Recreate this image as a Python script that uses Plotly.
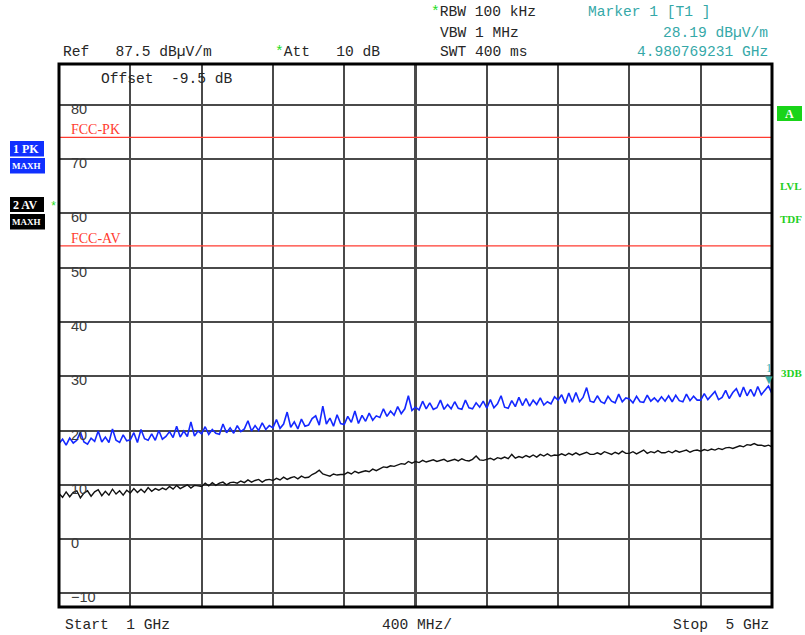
import numpy as np
import plotly.graph_objects as go

# ---- sweep settings ----
start_ghz = 1.0
stop_ghz = 5.0
ref_level = 87.5          # dBuV/m, top of screen
range_db = 100.0          # 10 dB / div
freq_ghz = np.linspace(start_ghz, stop_ghz, 201)   # 20 MHz per point

# ---- trace 1: peak, max hold (dBuV/m) ----
trace1_pk = [
    17.6, 18.4, 17.3, 18.6, 17.7, 18.2, 19.7, 17.9, 17.5, 18.6,
    18.0, 19.9, 17.9, 18.8, 17.8, 20.3, 18.2, 17.8, 19.2, 18.1,
    18.3, 19.6, 17.8, 20.2, 18.5, 18.2, 19.4, 18.2, 20.0, 18.4,
    18.9, 19.8, 18.7, 20.8, 18.8, 19.9, 18.9, 21.6, 19.0, 19.9,
    19.4, 20.7, 19.3, 20.2, 19.5, 19.3, 21.2, 19.6, 20.5, 19.5,
    20.9, 19.8, 20.3, 21.8, 19.9, 20.9, 20.0, 21.4, 20.2, 20.9,
    20.5, 22.0, 20.4, 21.2, 23.4, 20.6, 21.6, 20.3, 22.1, 20.8,
    21.0, 22.2, 22.7, 21.0, 24.5, 21.2, 22.3, 20.8, 22.9, 21.3,
    21.1, 22.6, 21.5, 23.6, 21.3, 22.8, 21.7, 23.2, 21.9, 22.7,
    22.4, 24.0, 22.6, 23.6, 22.8, 24.4, 23.1, 24.0, 26.4, 23.7,
    24.3, 23.8, 25.4, 24.0, 25.1, 23.9, 24.2, 25.6, 23.9, 24.8,
    24.0, 25.3, 24.1, 23.9, 25.6, 24.2, 24.0, 25.1, 24.3, 25.4,
    24.1, 25.7, 24.2, 24.9, 26.4, 24.3, 24.1, 25.5, 24.4, 26.1,
    24.6, 25.9, 24.5, 25.6, 24.8, 26.0, 24.7, 25.3, 24.9, 26.2,
    25.6, 26.6, 25.0, 26.9, 25.2, 27.0, 25.3, 26.1, 27.9, 25.4,
    25.2, 26.4, 25.3, 25.0, 26.3, 25.4, 25.1, 26.7, 25.3, 26.0,
    25.8, 25.1, 26.3, 25.3, 25.2, 26.5, 25.4, 26.0, 25.3, 26.2,
    25.4, 26.4, 25.3, 26.5, 25.5, 25.3, 26.7, 25.5, 26.3, 25.6,
    25.6, 26.8, 25.7, 26.4, 27.2, 25.7, 26.1, 27.4, 25.9, 27.0,
    27.7, 26.2, 28.0, 26.4, 27.6, 26.3, 28.1, 26.6, 27.3, 28.19,
    26.8,
]

# ---- trace 2: average, max hold (dBuV/m) ----
trace2_av = [
    8.4, 7.7, 8.7, 7.8, 8.6, 8.9, 7.6, 8.5, 8.9, 7.9,
    8.7, 9.1, 8.0, 8.8, 8.1, 9.2, 8.3, 8.9, 8.1, 9.0,
    8.5, 9.3, 8.6, 9.2, 8.6, 9.5, 8.8, 9.3, 9.0, 9.4,
    9.1, 9.7, 9.2, 9.9, 9.3, 9.6, 10.0, 9.4, 9.9, 9.8,
    9.7, 10.3, 9.8, 10.4, 9.9, 10.3, 10.5, 10.0, 10.4, 10.5,
    10.3, 10.7, 10.4, 10.9, 10.5, 10.8, 11.0, 10.5, 10.9, 11.0,
    10.8, 11.2, 10.9, 11.4, 11.0, 11.3, 11.5, 11.1, 11.6, 11.3,
    11.4, 11.9, 12.2, 12.7, 12.0, 11.8, 11.6, 12.0, 11.8, 11.9,
    11.9, 12.3, 12.0, 12.5, 12.2, 12.4, 12.6, 12.4, 12.9, 12.6,
    12.9, 13.3, 13.2, 13.5, 13.4, 13.7, 13.9, 13.8, 14.3, 14.0,
    14.3, 14.1, 14.5, 14.2, 14.4, 14.6, 14.3, 14.5, 14.7, 14.3,
    14.5, 14.7, 14.4, 14.8, 14.5, 14.4, 14.7, 15.3, 14.6, 14.5,
    14.7, 14.9, 14.6, 15.0, 14.8, 15.1, 14.8, 15.6, 14.9, 15.2,
    15.0, 15.4, 15.1, 15.5, 15.1, 15.6, 15.3, 15.7, 15.3, 15.5,
    15.4, 15.7, 15.4, 15.8, 15.5, 15.9, 15.5, 15.8, 16.0, 15.6,
    15.6, 15.9, 15.6, 16.1, 15.8, 15.6, 16.0, 15.7, 16.2, 15.8,
    15.8, 16.1, 15.7, 16.0, 16.4, 15.8, 16.1, 15.9, 16.3, 15.9,
    15.9, 16.2, 15.9, 16.3, 16.0, 16.2, 16.4, 16.0, 16.3, 16.4,
    16.2, 16.5, 16.3, 16.6, 16.4, 16.7, 16.5, 16.8, 16.9, 16.7,
    17.0, 17.2, 17.0, 17.4, 17.3, 17.6, 17.3, 17.3, 17.1, 17.3,
    17.0,
]

# ---- limit lines and marker ----
fcc_pk_limit = 74.0
fcc_av_limit = 54.0
marker_freq_ghz = 4.980769231
marker_level = 28.19

y_tick_values = [80, 70, 60, 50, 40, 30, 20, 10, 0, -10]
y_tick_labels = ["80", "70", "60", "50", "40", "30", "20", "10", "0", "\u221210"]

# ---- page geometry ----
W, H = 805, 635
ML, MR, MT, MB = 59, 33, 64, 28
PW, PH = W - ML - MR, H - MT - MB


def px(x):
    return (x - ML) / PW


def py(y):
    return (H - MB - y) / PH


MONO = "Liberation Mono"
SERIF = "Liberation Serif"
TEXT = "#262626"
TEAL = "#35a8a8"
GREEN = "#1fcf1f"
STAR = "<span style='color:#22dd22'>*</span>"

fig = go.Figure()

fig.add_trace(go.Scatter(x=freq_ghz, y=trace1_pk, mode="lines",
                         line=dict(color="#1428ff", width=1.6), hoverinfo="skip"))
fig.add_trace(go.Scatter(x=freq_ghz, y=trace2_av, mode="lines",
                         line=dict(color="#111111", width=1.4), hoverinfo="skip"))

shapes = []
# limit lines
for lim in (fcc_pk_limit, fcc_av_limit):
    shapes.append(dict(type="line", xref="paper", yref="y", x0=0, x1=1, y0=lim, y1=lim,
                       line=dict(color="#ff3b30", width=1.3), layer="above"))
# centre frequency line
centre = (start_ghz + stop_ghz) / 2
shapes.append(dict(type="line", xref="x", yref="paper", x0=centre, x1=centre, y0=0, y1=1,
                   line=dict(color="#111111", width=2.5), layer="below"))
# screen frame
shapes.append(dict(type="rect", xref="paper", yref="paper", x0=0, x1=1, y0=0, y1=1,
                   line=dict(color="#000000", width=3), layer="above"))


# trace info boxes on the left, status box on the right
def box(x0, x1, y0, y1, color):
    shapes.append(dict(type="rect", xref="paper", yref="paper",
                       x0=px(x0), x1=px(x1), y0=py(y1), y1=py(y0),
                       fillcolor=color, line=dict(width=0), layer="above"))


box(10, 44, 141, 156.5, "#1030ff")
box(10, 45, 158, 173.5, "#1030ff")
box(10, 44, 197, 212, "#000000")
box(10, 45, 214, 229.5, "#000000")
box(777, 802, 106, 121, "#19d419")

annotations = []


def text(x, y, s, color=TEXT, size=14.6, family=MONO, anchor="left", bold=False):
    if bold:
        s = "<b>" + s + "</b>"
    annotations.append(dict(xref="paper", yref="paper", x=px(x), y=py(y), text=s,
                            showarrow=False, xanchor=anchor, yanchor="middle",
                            font=dict(family=family, size=size, color=color)))


# header
text(61, 52, "Ref   87.5 dB\u00b5V/m")
text(273, 52, STAR + "Att   10 dB")
text(429, 12, STAR + "RBW 100 kHz")
text(438, 33, "VBW 1 MHz")
text(438, 52, "SWT 400 ms")
text(586, 12, "Marker 1 [T1 ]", color=TEAL)
text(770, 33, "28.19 dB\u00b5V/m", color=TEAL, anchor="right")
text(770, 52, "4.980769231 GHz", color=TEAL, anchor="right")
text(99, 79, "Offset  -9.5 dB")

# footer
text(63, 625, "Start  1 GHz")
text(380, 625, "400 MHz/")
text(771, 625, "Stop  5 GHz", anchor="right")

# box labels
text(11, 149, "1 PK", color="white", size=12, family=SERIF, bold=True)
text(10, 166, "MAXH", color="white", size=9, family=SERIF, bold=True)
text(11, 205, "2 AV", color="white", size=12, family=SERIF, bold=True)
text(10, 222, "MAXH", color="white", size=9, family=SERIF, bold=True)
text(48, 207, "*", color="#22dd22", size=12, family=MONO)
text(789.5, 114, "A", color="white", size=12, family=SERIF, anchor="center", bold=True)
text(778, 186, "LVL", color=GREEN, size=11, family=SERIF, bold=True)
text(778, 219, "TDF", color=GREEN, size=11, family=SERIF, bold=True)
text(779, 373, "3DB", color=GREEN, size=11, family=SERIF, bold=True)

# limit line names
for lim, name in ((fcc_pk_limit, "FCC-PK"), (fcc_av_limit, "FCC-AV")):
    annotations.append(dict(xref="paper", yref="y", x=px(69), y=lim, text=name,
                            showarrow=False, xanchor="left", yanchor="bottom", yshift=-2,
                            font=dict(family=SERIF, size=14, color="#ff3b30")))

# level scale labels
for v, lab in zip(y_tick_values, y_tick_labels):
    annotations.append(dict(xref="paper", yref="y", x=px(69), y=v, text=lab,
                            showarrow=False, xanchor="left", yanchor="middle", yshift=-4,
                            font=dict(family="Liberation Sans", size=14.5, color="#3a3a3a")))

# marker 1
annotations.append(dict(xref="x", yref="y", x=marker_freq_ghz, y=marker_level, text="\u25bc",
                        showarrow=False, xanchor="center", yanchor="bottom", yshift=-1,
                        font=dict(family="DejaVu Sans", size=10, color=TEAL)))
annotations.append(dict(xref="x", yref="y", x=marker_freq_ghz, y=marker_level, text="1",
                        showarrow=False, xanchor="center", yanchor="bottom", yshift=9,
                        font=dict(family=SERIF, size=12, color=TEAL)))

fig.update_layout(
    width=W, height=H,
    margin=dict(l=ML, r=MR, t=MT, b=MB, pad=0),
    paper_bgcolor="white", plot_bgcolor="white",
    showlegend=False,
    shapes=shapes, annotations=annotations,
    xaxis=dict(range=[start_ghz, stop_ghz], tick0=start_ghz, dtick=(stop_ghz - start_ghz) / 10,
               showgrid=True, gridcolor="#4a4a4a", gridwidth=1.5,
               showticklabels=False, ticks="", zeroline=False, showline=False, fixedrange=True),
    yaxis=dict(range=[ref_level - range_db, ref_level], tick0=0, dtick=10,
               showgrid=True, gridcolor="#4a4a4a", gridwidth=1.5,
               showticklabels=False, ticks="", zeroline=False, showline=False, fixedrange=True),
)

fig.write_html("out.html", config={"displayModeBar": False})
